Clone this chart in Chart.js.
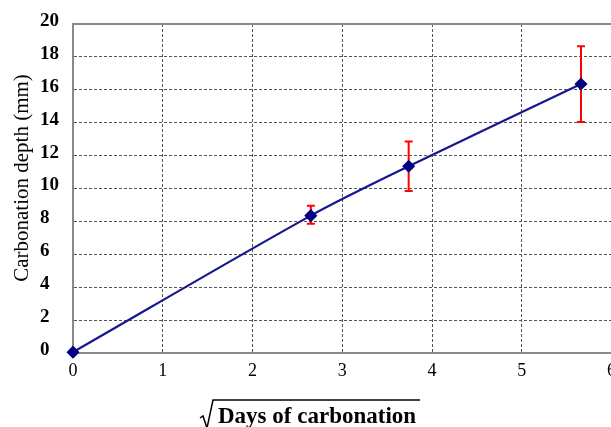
<!DOCTYPE html>
<html>
<head>
<meta charset="utf-8">
<script src="https://cdn.jsdelivr.net/npm/chart.js@4.4.1/dist/chart.umd.min.js"></script>
<style>
  html, body { margin: 0; padding: 0; background: #fff; overflow: hidden; }
  #wrap { width: 623px; height: 427px; }
</style>
</head>
<body>
<div id="wrap"><canvas id="carb-chart"></canvas></div>
<script>
// sqrt(days) on x, measured depth on y, with min/max spread per age
const sqrtDays = [0, 2.65, 3.74, 5.66];
const depth = [0.05, 8.35, 11.35, 16.35];
const depthLow = [null, 7.85, 9.85, 14.05];
const depthHigh = [null, 8.95, 12.85, 18.65];
const xTicks = [0, 1, 2, 3, 4, 5, 6];
const yTicks = [0, 2, 4, 6, 8, 10, 12, 14, 16, 18, 20];

const serif = "'Liberation Serif', 'Times New Roman', serif";

// red min/max bars behind the line
const errorBars = {
  id: 'errorBars',
  beforeDatasetsDraw(chart) {
    const { ctx, scales: { x, y } } = chart;
    ctx.save();
    ctx.strokeStyle = '#ff0000';
    ctx.lineWidth = 2;
    for (let i = 0; i < sqrtDays.length; i++) {
      if (depthLow[i] == null) continue;
      const px = x.getPixelForValue(sqrtDays[i]);
      const lo = y.getPixelForValue(depthLow[i]);
      const hi = y.getPixelForValue(depthHigh[i]);
      ctx.beginPath();
      ctx.moveTo(px, lo); ctx.lineTo(px, hi);
      ctx.moveTo(px - 4, lo); ctx.lineTo(px + 4, lo);
      ctx.moveTo(px - 4, hi); ctx.lineTo(px + 4, hi);
      ctx.stroke();
    }
    ctx.restore();
  }
};

// axis titles, the x one needs a radical sign over it
const axisTitles = {
  id: 'axisTitles',
  afterDraw(chart) {
    const { ctx, chartArea } = chart;
    ctx.save();
    ctx.fillStyle = '#000';

    ctx.translate(chartArea.left - 51, chartArea.top + 154);
    ctx.rotate(-Math.PI / 2);
    ctx.font = '21px ' + serif;
    ctx.textAlign = 'center';
    ctx.textBaseline = 'middle';
    ctx.fillText('Carbonation depth (mm)', 0, 0);
    ctx.setTransform(1, 0, 0, 1, 0, 0);

    const tx = chartArea.left + 145;
    const ty = chartArea.bottom + 70;
    ctx.font = 'bold 23px ' + serif;
    ctx.textAlign = 'left';
    ctx.textBaseline = 'alphabetic';
    ctx.fillText('Days of carbonation', tx, ty);
    const w = ctx.measureText('Days of carbonation').width;

    ctx.strokeStyle = '#000';
    ctx.lineWidth = 1.5;
    ctx.beginPath();
    ctx.moveTo(tx - 18, ty - 5);
    ctx.lineTo(tx - 15, ty - 7);
    ctx.lineTo(tx - 11, ty + 5);
    ctx.lineTo(tx - 5, ty - 23);
    ctx.lineTo(tx + w + 4, ty - 23);
    ctx.stroke();
    ctx.restore();
  }
};

new Chart(document.getElementById('carb-chart'), {
  type: 'line',
  data: {
    datasets: [{
      data: sqrtDays.map((v, i) => ({ x: v, y: depth[i] })),
      borderColor: '#16168f',
      borderWidth: 2.2,
      backgroundColor: '#000080',
      pointBackgroundColor: '#000080',
      pointBorderColor: '#000080',
      pointStyle: 'rectRot',
      pointRadius: 5,
      tension: 0.3,
      clip: false,
      fill: false
    }]
  },
  options: {
    responsive: true,
    maintainAspectRatio: false,
    animation: false,
    layout: { padding: { left: 40, top: 24, right: 0, bottom: 0 } },
    plugins: { legend: { display: false }, tooltip: { enabled: false } },
    scales: {
      x: {
        type: 'linear',
        min: 0, max: 6,
        afterBuildTicks: s => { s.ticks = xTicks.map(v => ({ value: v })); },
        afterFit: s => { s.height = 74; },
        ticks: { color: '#000', padding: 7, font: { family: serif, size: 18 } },
        grid: { color: '#555', lineWidth: 1, drawTicks: false },
        border: { color: '#8a8a8a', width: 2, dash: [3, 2] }
      },
      y: {
        min: 0, max: 20,
        afterBuildTicks: s => { s.ticks = yTicks.map(v => ({ value: v })); },
        afterFit: s => { s.width = 33; },
        ticks: {
          color: '#000', crossAlign: 'far', labelOffset: -3,
          font: { family: serif, size: 19, weight: 'bold' }
        },
        grid: {
          color: c => c.tick && c.tick.value === 20 ? '#8a8a8a' : '#555',
          lineWidth: c => c.tick && c.tick.value === 20 ? 2 : 1,
          drawTicks: false
        },
        border: {
          color: '#8a8a8a', width: 2,
          dash: c => c.tick && c.tick.value === 20 ? [] : [3, 2]
        }
      }
    }
  },
  plugins: [errorBars, axisTitles]
});
</script>
</body>
</html>
